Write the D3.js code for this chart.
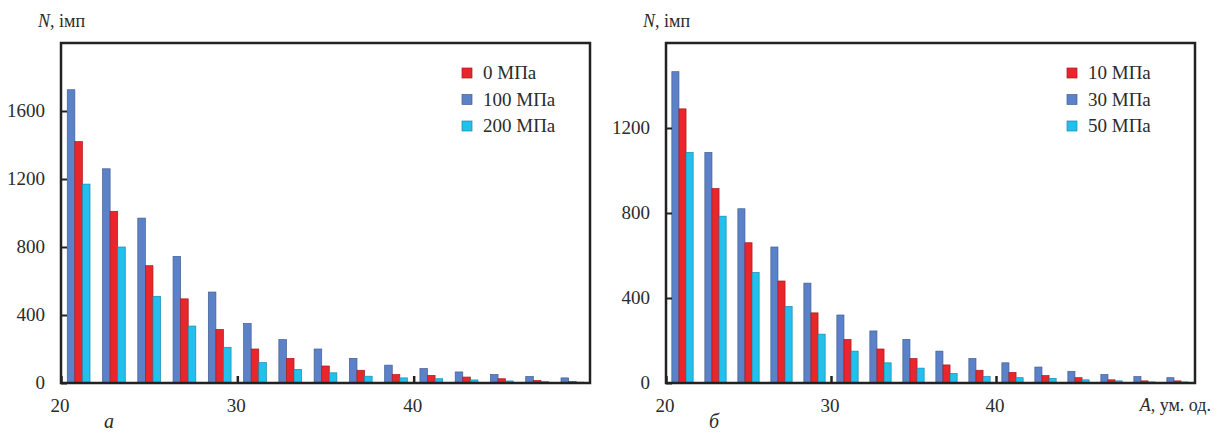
<!DOCTYPE html>
<html>
<head>
<meta charset="utf-8">
<script src="https://cdn.jsdelivr.net/npm/d3@7"></script>
<style>
  body { margin: 0; background: #fff; }
</style>
</head>
<body>
<div id="chart"></div>
<script>
// --- data ---
// left panel (а): bin centres of amplitude A and counts N
const binsA = [21, 23, 25, 27, 29, 31, 33, 35, 37, 39, 41, 43, 45, 47, 49];
const seriesA_0   = [1420, 1010, 690, 495, 315, 200, 145, 100, 75, 50, 45, 35, 25, 15, 8];
const seriesA_100 = [1725, 1260, 970, 745, 535, 350, 255, 200, 145, 105, 85, 65, 50, 38, 30];
const seriesA_200 = [1170, 800, 510, 335, 210, 120, 80, 60, 40, 30, 25, 18, 12, 8, 5];
const legendA = ["0 МПа", "100 МПа", "200 МПа"];
const yTicksA = [0, 400, 800, 1200, 1600];

// right panel (б)
const binsB = [21, 23, 25, 27, 29, 31, 33, 35, 37, 39, 41, 43, 45, 47, 49, 51];
const seriesB_10 = [1290, 915, 660, 480, 330, 205, 160, 115, 85, 60, 50, 35, 25, 15, 10, 10];
const seriesB_30 = [1465, 1085, 820, 640, 470, 320, 245, 205, 150, 115, 95, 75, 55, 40, 30, 25];
const seriesB_50 = [1085, 785, 520, 360, 230, 150, 95, 70, 45, 30, 25, 22, 15, 10, 5, 5];
const legendB = ["10 МПа", "30 МПа", "50 МПа"];
const yTicksB = [0, 400, 800, 1200];

const xTicks = [20, 30, 40];

const red = "#e8262b", blue = "#5b82c9", cyan = "#22c0ec";
const serif = "'Liberation Serif', 'Noto Serif', 'DejaVu Serif', 'FreeSerif', 'Nimbus Roman', 'Times New Roman', Times, serif";

const svg = d3.select("#chart").append("svg")
  .attr("width", 1218).attr("height", 434)
  .attr("font-family", serif);

function label(sel) {
  return sel.attr("font-family", serif).attr("fill", "#2b2b2b");
}

function panel(opt) {
  const g = svg.append("g");
  const x = d3.scaleLinear().domain(opt.xDomain).range([opt.left, opt.right]);
  const y = d3.scaleLinear().domain(opt.yDomain).range([opt.bottom, opt.top]);
  const bw = 0.43; // bar width in A units

  // bars: blue, red, cyan inside every group
  const order = [
    {vals: opt.blue, color: blue, k: 0},
    {vals: opt.red, color: red, k: 1},
    {vals: opt.cyan, color: cyan, k: 2}
  ];
  order.forEach(s => {
    g.selectAll(null).data(opt.bins).enter().append("rect")
      .attr("x", (d, i) => x(d - 1.5 * bw + s.k * bw))
      .attr("width", x(opt.xDomain[0] + bw) - x(opt.xDomain[0]))
      .attr("y", (d, i) => y(s.vals[i]))
      .attr("height", (d, i) => y(0) - y(s.vals[i]))
      .attr("fill", s.color)
      .attr("stroke", d3.color(s.color).darker(0.9))
      .attr("stroke-width", 0.7);
  });

  // frame
  g.append("rect")
    .attr("x", opt.left).attr("y", opt.top)
    .attr("width", opt.right - opt.left).attr("height", opt.bottom - opt.top)
    .attr("fill", "none").attr("stroke", "#222").attr("stroke-width", 2.5);

  // y axis
  const ya = d3.axisRight(y).tickValues(opt.yTicks).tickSize(6).tickFormat("");
  g.append("g").attr("transform", `translate(${opt.left},0)`).call(ya)
    .call(a => a.select(".domain").remove())
    .call(a => a.selectAll("line").attr("stroke", "#222").attr("stroke-width", 2));
  g.selectAll(null).data(opt.yTicks).enter().append("text")
    .call(label)
    .attr("x", opt.left - 16).attr("y", d => y(d) + 6)
    .attr("text-anchor", "end").attr("font-size", 19)
    .text(d => d);

  // x axis
  const xa = d3.axisTop(x).tickValues(opt.xTicks).tickSize(7).tickFormat("");
  g.append("g").attr("transform", `translate(0,${opt.bottom})`).call(xa)
    .call(a => a.select(".domain").remove())
    .call(a => a.selectAll("line").attr("stroke", "#222").attr("stroke-width", 2.5));
  g.selectAll(null).data(opt.xTicks).enter().append("text")
    .call(label)
    .attr("x", d => x(d) - 1).attr("y", opt.bottom + 29)
    .attr("text-anchor", "middle").attr("font-size", 19)
    .text(d => d);

  // y title
  const t = g.append("text").call(label)
    .attr("x", opt.left - 23).attr("y", 27).attr("font-size", 18);
  t.append("tspan").attr("font-style", "italic").text("N");
  t.append("tspan").text(", імп");

  // panel letter
  g.append("text").call(label).attr("x", opt.letterX).attr("y", 428)
    .attr("font-size", 20).attr("font-style", "italic").attr("text-anchor", "middle")
    .text(opt.letter);

  // legend
  const leg = [
    {name: opt.legend[0], color: red},
    {name: opt.legend[1], color: blue},
    {name: opt.legend[2], color: cyan}
  ];
  leg.forEach((l, i) => {
    const cy = 73 + i * 26.5;
    g.append("rect").attr("x", opt.legX).attr("y", cy - 5).attr("width", 10).attr("height", 10)
      .attr("fill", l.color).attr("stroke", d3.color(l.color).darker(0.9)).attr("stroke-width", 0.7);
    g.append("text").call(label)
      .attr("x", opt.legX + 21).attr("y", cy + 6).attr("font-size", 19).text(l.name);
  });
  return {g, x, y};
}

panel({
  left: 61, right: 590, top: 43, bottom: 383,
  xDomain: [20, 50], yDomain: [0, 2000],
  bins: binsA, red: seriesA_0, blue: seriesA_100, cyan: seriesA_200,
  yTicks: yTicksA, xTicks: xTicks, legend: legendA, legX: 462,
  letter: "а", letterX: 109
});

const right = panel({
  left: 666, right: 1195, top: 43, bottom: 383,
  xDomain: [20, 52.06], yDomain: [0, 1600],
  bins: binsB, red: seriesB_10, blue: seriesB_30, cyan: seriesB_50,
  yTicks: yTicksB, xTicks: xTicks, legend: legendB, legX: 1067,
  letter: "б", letterX: 714
});

// x title on the right panel
const xt = right.g.append("text").call(label).attr("x", 1211).attr("y", 411)
  .attr("text-anchor", "end").attr("font-size", 18);
xt.append("tspan").attr("font-style", "italic").text("A");
xt.append("tspan").text(", ум. од.");
</script>
</body>
</html>
